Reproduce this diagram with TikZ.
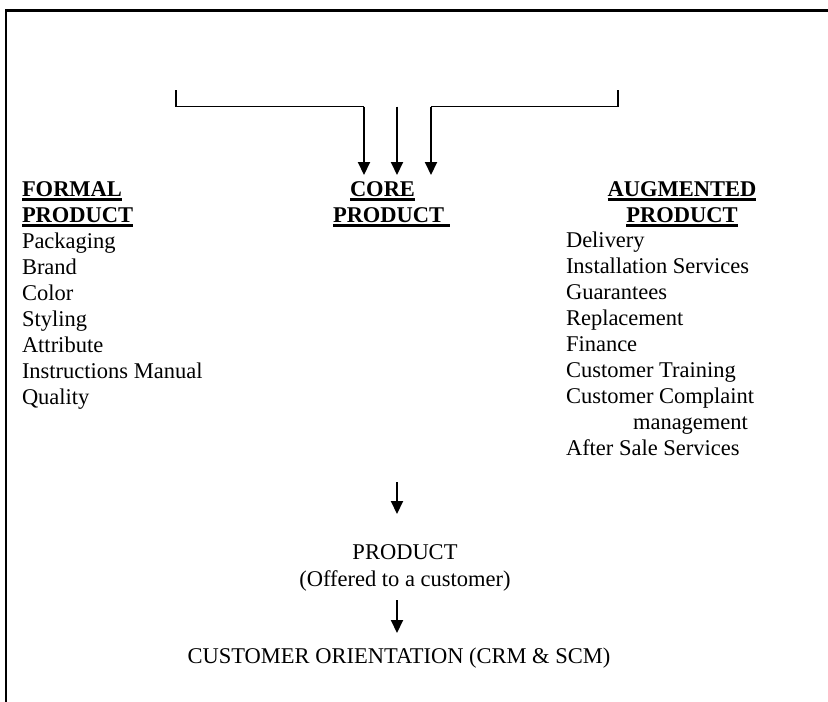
\documentclass[tikz,border=0pt]{standalone}
\usepackage{fontspec}
\setmainfont{Liberation Serif}
\usetikzlibrary{arrows.meta}
\newcommand\myul[1]{\leavevmode\setbox0=\hbox{#1}\rlap{\rule[-4.6pt]{\wd0}{2.2pt}}\box0}
\begin{document}
\begin{tikzpicture}[x=1pt,y=-1pt,
  txt/.style={inner sep=0pt,outer sep=0pt,font=\fontsize{22.5}{26}\selectfont},
  head/.style={txt,font=\fontsize{22.5}{26}\selectfont\bfseries},
  thinln/.style={line width=1.3pt},
  frameln/.style={line width=2.4pt},
  arr/.style={line width=2pt,-{Triangle[length=13pt,width=12pt]}}]
\useasboundingbox (0,0) rectangle (828,702);
% frame
\draw[frameln] (6,702) -- (6,10.5) -- (828,10.5);
% headers (anchor base = baseline of last line)
\node[head,anchor=base west,align=left] (formalhead) at (22,222) {\myul{FORMAL}\\\myul{PRODUCT}};
\node[head,anchor=base west,align=left] (corehead) at (333,222) {\hspace*{17pt}\myul{CORE}\\\myul{PRODUCT\ }};
\node[head,anchor=base,align=center] (aughead) at (682,222) {\myul{AUGMENTED}\\\myul{PRODUCT}};
% lists
\node[txt,anchor=base west,align=left] (formallist) at (22,404) {Packaging\\Brand\\Color\\Styling\\Attribute\\Instructions Manual\\Quality};
\node[txt,anchor=base west,align=left] (auglist) at (566,455) {Delivery\\Installation Services\\Guarantees\\Replacement\\Finance\\Customer Training\\Customer Complaint\\\hspace*{67pt}management\\After Sale Services};
% lower nodes
\node[txt,anchor=base,align=center,font=\fontsize{22.5}{27}\selectfont] (product) at (405,586) {PRODUCT\\(Offered to a customer)};
\node[txt,anchor=base] (orient) at (399,663) {CUSTOMER ORIENTATION (CRM \& SCM)};
% bracket coordinates
\coordinate (ltop) at (176,90);
\coordinate (lcorner) at (176,106.5);
\coordinate (a1s) at (364,106.5);
\coordinate (a1e) at (364,175);
\coordinate (a2s) at (397,106.5);
\coordinate (a2e) at (397,175);
\coordinate (a3s) at (431,106.5);
\coordinate (a3e) at (431,175);
\coordinate (rcorner) at (618,106.5);
\coordinate (rtop) at (618,90);
\draw[thinln] (ltop) -- (lcorner) -- (a1s);
\draw[thinln] (rtop) -- (rcorner) -- (a3s);
\draw[arr] (a1s) -- (a1e);
\draw[arr] (a2s) -- (a2e);
\draw[arr] (a3s) -- (a3e);
% lower arrows
\coordinate (d1s) at (397,482);
\coordinate (d1e) at (397,514);
\coordinate (d2s) at (397,600);
\coordinate (d2e) at (397,633);
\draw[arr] (d1s) -- (d1e);
\draw[arr] (d2s) -- (d2e);
\end{tikzpicture}
\end{document}
